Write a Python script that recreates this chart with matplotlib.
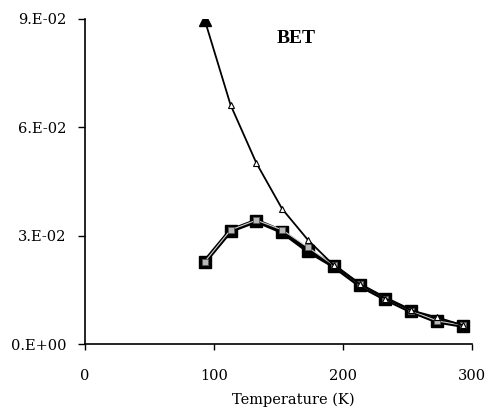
import matplotlib
matplotlib.use("Agg")
import matplotlib.pyplot as plt

# Temperature (K) and BET values
temps = [93, 113, 133, 153, 173, 193, 213, 233, 253, 273, 293]
bet_tri = [0.0897, 0.0662, 0.0501, 0.0374, 0.0288, 0.0218, 0.0166, 0.0126, 0.0093, 0.0074, 0.0052]
bet_sq1 = [0.0228, 0.0314, 0.0341, 0.0311, 0.0258, 0.0216, 0.0163, 0.0125, 0.0091, 0.0063, 0.0051]
bet_sq2 = [0.0228, 0.0316, 0.0343, 0.0316, 0.0268, 0.0218, 0.0165, 0.0126, 0.0092, 0.0064, 0.0052]

y_ticks = [0.0, 0.03, 0.06, 0.09]
y_labels = ["0.E+00", "3.E-02", "6.E-02", "9.E-02"]
x_ticks = [0, 100, 200, 300]

plt.rcParams["font.family"] = ["DejaVu Serif"]

fig = plt.figure(figsize=(4.9, 4.13), dpi=100)
ax = fig.add_axes([0.173, 0.167, 0.790, 0.787])

# black square series
ax.plot(temps, bet_sq1, color="black", lw=3.2, marker="s", ms=8,
        mfc="black", mec="black", zorder=3)
# grey square series sitting on top
ax.plot(temps, bet_sq2, color="#cfcfcf", lw=0.8, marker="s", ms=5,
        mfc="#b8b8b8", mec="#555555", mew=0.6, zorder=4)
# triangle series
ax.plot(temps, bet_tri, color="black", lw=1.3, marker="^", ms=5,
        mfc="white", mec="black", mew=0.8, zorder=5)
ax.plot(temps[0], bet_tri[0], marker="^", ms=8, color="black", zorder=6)

ax.text(164, 0.0845, "BET", fontsize=14, fontweight="bold", ha="center", va="center",
        family="Liberation Serif")

ax.set_xlim(0, 300)
ax.set_ylim(0, 0.09)
ax.set_xticks(x_ticks)
ax.set_yticks(y_ticks)
ax.set_yticklabels(y_labels)
ax.tick_params(axis="both", direction="out", length=5, width=1, labelsize=10.5, pad=8)
ax.tick_params(axis="x", length=4, pad=14)
ax.set_xlabel("Temperature (K)", fontsize=10.5)
ax.xaxis.set_label_coords(0.54, -0.15)

ax.spines["top"].set_visible(False)
ax.spines["right"].set_visible(False)
ax.spines["left"].set_linewidth(1.2)
ax.spines["bottom"].set_linewidth(1.2)

fig.savefig("out.png", dpi=100, facecolor="white")
